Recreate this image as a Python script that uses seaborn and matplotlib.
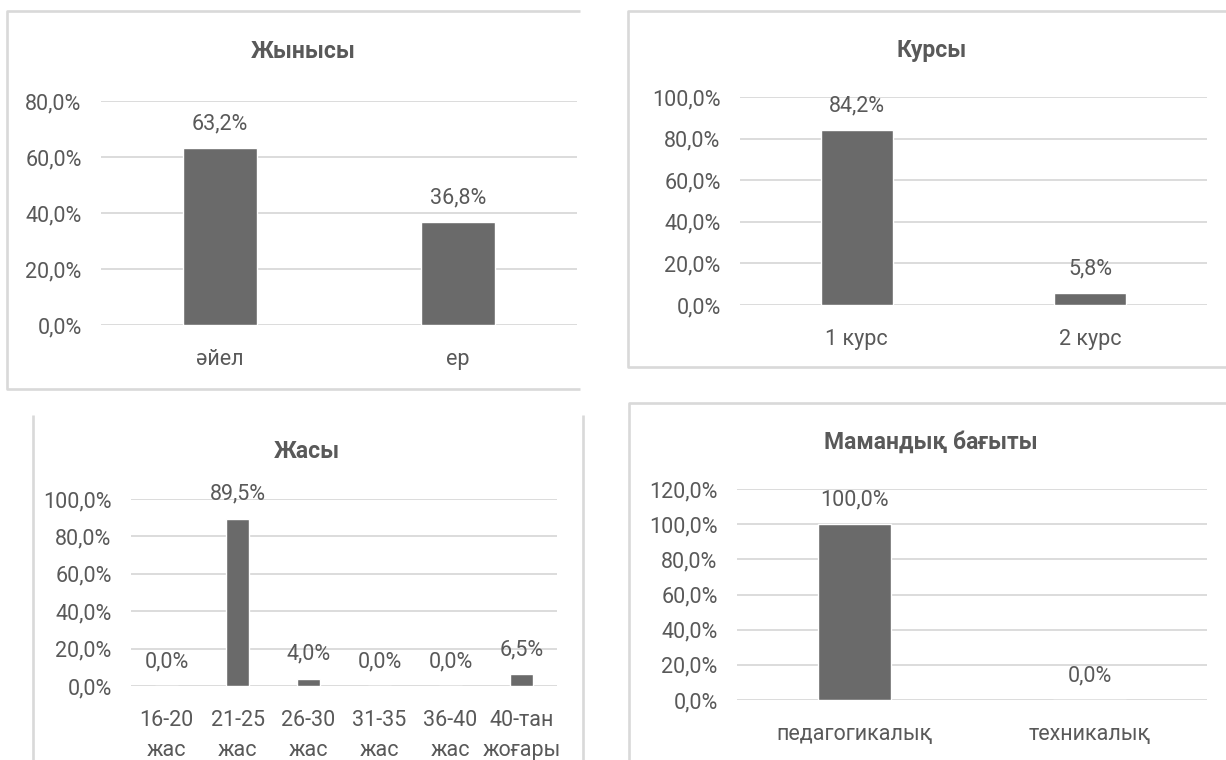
import matplotlib
matplotlib.use("Agg")
import matplotlib.pyplot as plt
from matplotlib.lines import Line2D
from matplotlib.ticker import FuncFormatter, MultipleLocator
import seaborn as sns

# data
gender_cats = ["әйел", "ер"]
gender_vals = [63.2, 36.8]

course_cats = ["1 курс", "2 курс"]
course_vals = [84.2, 5.8]

age_cats = ["16-20\nжас", "21-25\nжас", "26-30\nжас", "31-35\nжас", "36-40\nжас", "40-тан\nжоғары"]
age_vals = [0.0, 89.5, 4.0, 0.0, 0.0, 6.5]

spec_cats = ["педагогикалық", "техникалық"]
spec_vals = [100.0, 0.0]

titles = ["Жынысы", "Курсы", "Жасы", "Мамандық бағыты"]

sns.set_style("white")
plt.rcParams["font.family"] = ["Roboto", "Noto Sans", "DejaVu Sans"]

W, H = 1226, 760
BAR = "#6a6a6a"
TXT = "#595959"
GRID = "#d9d9d9"
FS = 15.5

fig = plt.figure(figsize=(W / 100, H / 100), dpi=100)


def pct(v, pos=None):
    return f"{v:.1f}%".replace(".", ",")


def frame(x0, y0, x1, y1):
    # pixel box -> figure fraction
    return [x0 / W, 1 - y1 / H, (x1 - x0) / W, (y1 - y0) / H]


def line(xs, ys):
    fig.add_artist(Line2D([x / W for x in xs], [1 - y / H for y in ys],
                          color=GRID, lw=1.9, solid_capstyle="butt"))


def panel(box, cats, vals, ymax, title, tx, ty):
    ax = fig.add_axes(frame(*box))
    sns.barplot(x=cats, y=vals, color=BAR, saturation=1, width=0.31,
                errorbar=None, ax=ax)
    ax.set_ylim(0, ymax)
    ax.yaxis.set_major_locator(MultipleLocator(20))
    ax.yaxis.set_major_formatter(FuncFormatter(pct))
    ax.grid(axis="y", color=GRID, lw=1.3)
    ax.set_axisbelow(True)
    for s in ax.spines.values():
        s.set_visible(False)
    ax.tick_params(axis="both", length=0, labelsize=FS, colors=TXT)
    ax.tick_params(axis="y", pad=14)
    ax.tick_params(axis="x", pad=17)
    ax.bar_label(ax.containers[0], labels=[pct(v) for v in vals],
                 padding=10, fontsize=FS, color=TXT)
    fig.text(tx / W, 1 - ty / H, title, ha="center", va="center",
             fontsize=16.5, fontweight="bold", color=TXT)
    return ax


panel((101, 101, 577, 325), gender_cats, gender_vals, 80, titles[0], 303, 52)
panel((740, 97, 1207, 305), course_cats, course_vals, 100, titles[1], 932, 51)
ax3 = panel((131, 499, 557, 686), age_cats, age_vals, 100, titles[2], 307, 452)
plt.setp(ax3.get_xticklabels(), linespacing=1.6)
panel((737, 489, 1207, 700), spec_cats, spec_vals, 120, titles[3], 931, 442)

# chart frames (partly cropped in the screenshot)
line([580, 7, 7, 580], [11, 11, 389, 389])
line([1226, 628, 628, 1226], [11, 11, 367, 367])
line([33, 33], [415, 760])
line([583, 583], [415, 760])
line([629, 629, 1226], [760, 403, 403])

fig.savefig("out.png", dpi=100, facecolor="white")
